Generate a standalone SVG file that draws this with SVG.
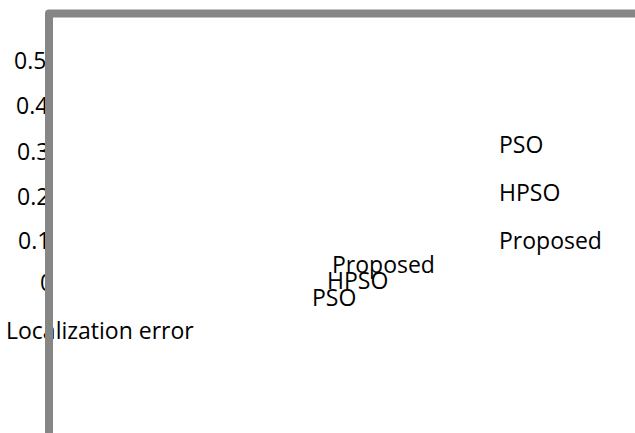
<svg xmlns="http://www.w3.org/2000/svg" width="635" height="433" viewBox="0 0 635 433">
  <style>
    text { font-family: "Open Sans", "Noto Sans", sans-serif; font-size: 23px; fill: #000; }
    .axis { fill: none; stroke: #868686; stroke-width: 8; stroke-linejoin: round; }
  </style>
  <rect width="635" height="433" fill="#fff"/>
  <!-- y tick labels (partly hidden by the axis line) -->
  <g id="ticks">
    <text x="14" y="69">0.5</text>
    <text x="16" y="114">0.4</text>
    <text x="17" y="160">0.3</text>
    <text x="17" y="205">0.2</text>
    <text x="18" y="249">0.1</text>
    <text x="40" y="291">0</text>
  </g>
  <g id="axis-title">
    <text x="6" y="339">Localization error</text>
  </g>
  <!-- legend entries -->
  <g id="legend">
    <text x="499" y="153">PSO</text>
    <text x="499" y="201">HPSO</text>
    <text x="499" y="249">Proposed</text>
  </g>
  <!-- stacked series labels -->
  <g id="series-labels">
    <text x="312" y="306">PSO</text>
    <text x="327" y="289">HPSO</text>
    <text x="332" y="273">Proposed</text>
  </g>
  <g id="connectors">
    <path class="axis" d="M49,433 L49,13.5 L635,13.5"/>
  </g>
</svg>
